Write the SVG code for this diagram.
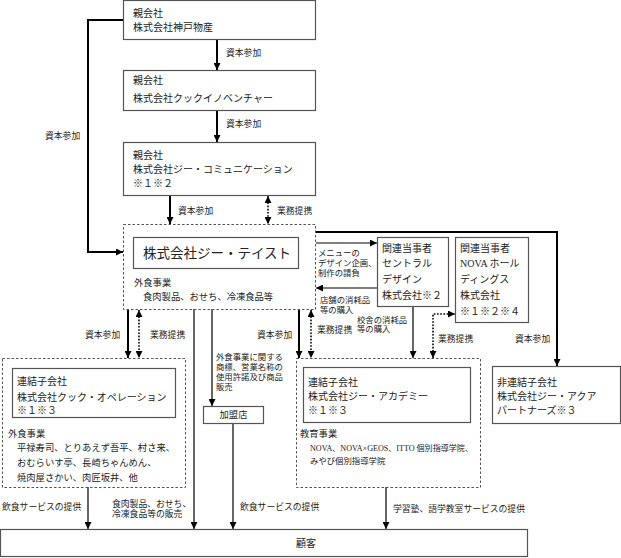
<svg xmlns="http://www.w3.org/2000/svg" width="621" height="558" viewBox="0 0 621 558">
<defs>
<style>
text{font-family:"Liberation Serif","Noto Sans CJK JP",serif;fill:#222;}
.n{font-size:10px;}
.s{font-size:9.3px;}
.l{font-size:8.8px;}
.xs{font-size:8.4px;}
.big{font-size:13.5px;}
.box{fill:#fff;stroke:#555;stroke-width:1.2;}
.dbox{fill:none;stroke:#555;stroke-width:1;stroke-dasharray:2.5,2;}
.thick{fill:none;stroke:#000;stroke-width:2;}
.thin{fill:none;stroke:#000;stroke-width:1.2;}
.dot{fill:none;stroke:#000;stroke-width:1.6;stroke-dasharray:1.6,1.6;}
</style>
<marker id="ah" viewBox="0 0 10 10" refX="10" refY="5" markerWidth="7" markerHeight="7" markerUnits="userSpaceOnUse" orient="auto-start-reverse"><path d="M0,0 L10,5 L0,10 z" fill="#000"/></marker>
</defs>
<rect width="621" height="558" fill="#fff"/>

<g id="connectors">
<line class="thick" x1="217" y1="40" x2="217" y2="70" marker-end="url(#ah)"/>
<line class="thick" x1="217" y1="110" x2="217" y2="142" marker-end="url(#ah)"/>
<path class="thick" d="M123,20 H88 V252 H123" marker-end="url(#ah)"/>
<line class="thick" x1="170" y1="195" x2="170" y2="224" marker-end="url(#ah)"/>
<line class="dot" x1="268" y1="196" x2="268" y2="224" marker-start="url(#ah)" marker-end="url(#ah)"/>
<path class="thick" d="M315,232 H557 V366" marker-end="url(#ah)"/>
<line class="thin" x1="316" y1="243" x2="377" y2="243" marker-end="url(#ah)"/>
<line class="thin" x1="377" y1="288" x2="316" y2="288" marker-end="url(#ah)"/>
<line class="thin" x1="413" y1="306" x2="413" y2="358" marker-end="url(#ah)"/>
<path class="dot" d="M433,358 V314 H455" marker-start="url(#ah)" marker-end="url(#ah)"/>
<line class="thick" x1="128" y1="309" x2="128" y2="358" marker-end="url(#ah)"/>
<line class="dot" x1="139" y1="310" x2="139" y2="358" marker-start="url(#ah)" marker-end="url(#ah)"/>
<line class="thin" x1="194" y1="309" x2="194" y2="529" marker-end="url(#ah)"/>
<line class="thin" x1="212" y1="309" x2="212" y2="406" marker-end="url(#ah)"/>
<line class="thin" x1="233" y1="423" x2="233" y2="529" marker-end="url(#ah)"/>
<line class="thick" x1="299" y1="309" x2="299" y2="358" marker-end="url(#ah)"/>
<line class="dot" x1="311" y1="310" x2="311" y2="358" marker-start="url(#ah)" marker-end="url(#ah)"/>
<line class="thin" x1="88" y1="487" x2="88" y2="529" marker-end="url(#ah)"/>
<line class="thin" x1="386" y1="487" x2="386" y2="529" marker-end="url(#ah)"/>
</g>

<g id="labels">
<text class="l" x="226" y="56">資本参加</text>
<text class="l" x="226" y="127">資本参加</text>
<text class="l" x="45" y="139">資本参加</text>
<text class="l" x="178" y="214">資本参加</text>
<text class="l" x="277" y="214">業務提携</text>
<text class="xs" x="318" y="256">メニューの</text>
<text class="xs" x="318" y="266">デザイン企画、</text>
<text class="xs" x="318" y="276">制作の請負</text>
<text class="xs" x="320" y="303">店舗の消耗品</text>
<text class="xs" x="320" y="313">等の購入</text>
<text class="xs" x="357" y="323">校舎の消耗品</text>
<text class="xs" x="357" y="332">等の購入</text>
<text class="l" x="438" y="342">業務提携</text>
<text class="l" x="515" y="342">資本参加</text>
<text class="l" x="85" y="338">資本参加</text>
<text class="l" x="150" y="338">業務提携</text>
<text class="l" x="257" y="338">資本参加</text>
<text class="l" x="317" y="333">業務提携</text>
<text class="xs" x="216" y="360">外食事業に関する</text>
<text class="xs" x="216" y="370">商標、営業名称の</text>
<text class="xs" x="216" y="380">使用許諾及び商品</text>
<text class="xs" x="216" y="390">販売</text>
<text class="l" x="2" y="510">飲食サービスの提供</text>
<text class="l" x="112" y="507">食肉製品、おせち、</text>
<text class="l" x="112" y="517">冷凍食品等の販売</text>
<text class="l" x="240" y="510">飲食サービスの提供</text>
<text class="l" x="393" y="512">学習塾、語学教室サービスの提供</text>
</g>

<g id="kobe">
<rect class="box" x="123.5" y="0.5" width="192" height="39"/>
<text class="n" x="133" y="17">親会社</text>
<text class="n" x="133" y="31">株式会社神戸物産</text>
</g>

<g id="cookinnov">
<rect class="box" x="123.5" y="70.5" width="192" height="40"/>
<text class="n" x="133" y="84">親会社</text>
<text class="n" x="133" y="102">株式会社クックイノベンチャー</text>
</g>

<g id="gcomm">
<rect class="box" x="123.5" y="142.5" width="192" height="53"/>
<text class="n" x="133" y="159">親会社</text>
<text class="n" x="133" y="173">株式会社ジー・コミュニケーション</text>
<text class="n" x="133" y="187">※１※２</text>
</g>

<g id="gtaste">
<rect class="dbox" x="123.5" y="224.5" width="192" height="85"/>
<rect class="box" x="133.5" y="237.5" width="165" height="31"/>
<text class="big" x="143" y="258">株式会社ジー・テイスト</text>
<text class="s" x="134" y="286">外食事業</text>
<text class="s" x="143" y="300">食肉製品、おせち、冷凍食品等</text>
</g>

<g id="central">
<rect class="box" x="377.5" y="237.5" width="71" height="69"/>
<text class="n" x="382" y="252">関連当事者</text>
<text class="n" x="382" y="267">セントラル</text>
<text class="n" x="382" y="283">デザイン</text>
<text class="n" x="382" y="299">株式会社※２</text>
</g>

<g id="nova">
<rect class="box" x="455.5" y="237.5" width="73" height="85"/>
<text class="n" x="460" y="252">関連当事者</text>
<text class="n" x="460" y="267">NOVA ホール</text>
<text class="n" x="460" y="283">ディングス</text>
<text class="n" x="460" y="299">株式会社</text>
<text class="n" x="460" y="315">※１※２※４</text>
</g>

<g id="cookop">
<rect class="dbox" x="2.5" y="358.5" width="183" height="129"/>
<rect class="box" x="12.5" y="368.5" width="163" height="49"/>
<text class="n" x="17" y="385">連結子会社</text>
<text class="n" x="17" y="401">株式会社クック・オペレーション</text>
<text class="n" x="17" y="414">※１※３</text>
<text class="s" x="8" y="437">外食事業</text>
<text class="s" x="17" y="451">平禄寿司、とりあえず吾平、村さ来、</text>
<text class="s" x="17" y="466">おむらいす亭、長崎ちゃんめん、</text>
<text class="s" x="17" y="481">焼肉屋さかい、肉匠坂井、他</text>
</g>

<g id="kameiten">
<rect class="box" x="203.5" y="406.5" width="60" height="17"/>
<text class="s" x="233.5" y="418" text-anchor="middle">加盟店</text>
</g>

<g id="gacademy">
<rect class="dbox" x="296.5" y="358.5" width="184" height="129"/>
<rect class="box" x="303.5" y="367.5" width="167" height="55"/>
<text class="n" x="308" y="386">連結子会社</text>
<text class="n" x="308" y="400">株式会社ジー・アカデミー</text>
<text class="n" x="308" y="414">※１※３</text>
<text class="s" x="300" y="437">教育事業</text>
<text class="xs" x="310" y="451" textLength="163" lengthAdjust="spacingAndGlyphs">NOVA、NOVA×GEOS、ITTO 個別指導学院、</text>
<text class="xs" x="310" y="464">みやび個別指導学院</text>
</g>

<g id="gaqua">
<rect class="box" x="492.5" y="366.5" width="128" height="57"/>
<text class="n" x="497" y="386">非連結子会社</text>
<text class="n" x="497" y="400">株式会社ジー・アクア</text>
<text class="n" x="497" y="414">パートナーズ※３</text>
</g>

<g id="kokyaku">
<rect class="box" x="0.5" y="529.5" width="527" height="27"/>
<text class="n" x="306" y="547" text-anchor="middle">顧客</text>
</g>
</svg>
